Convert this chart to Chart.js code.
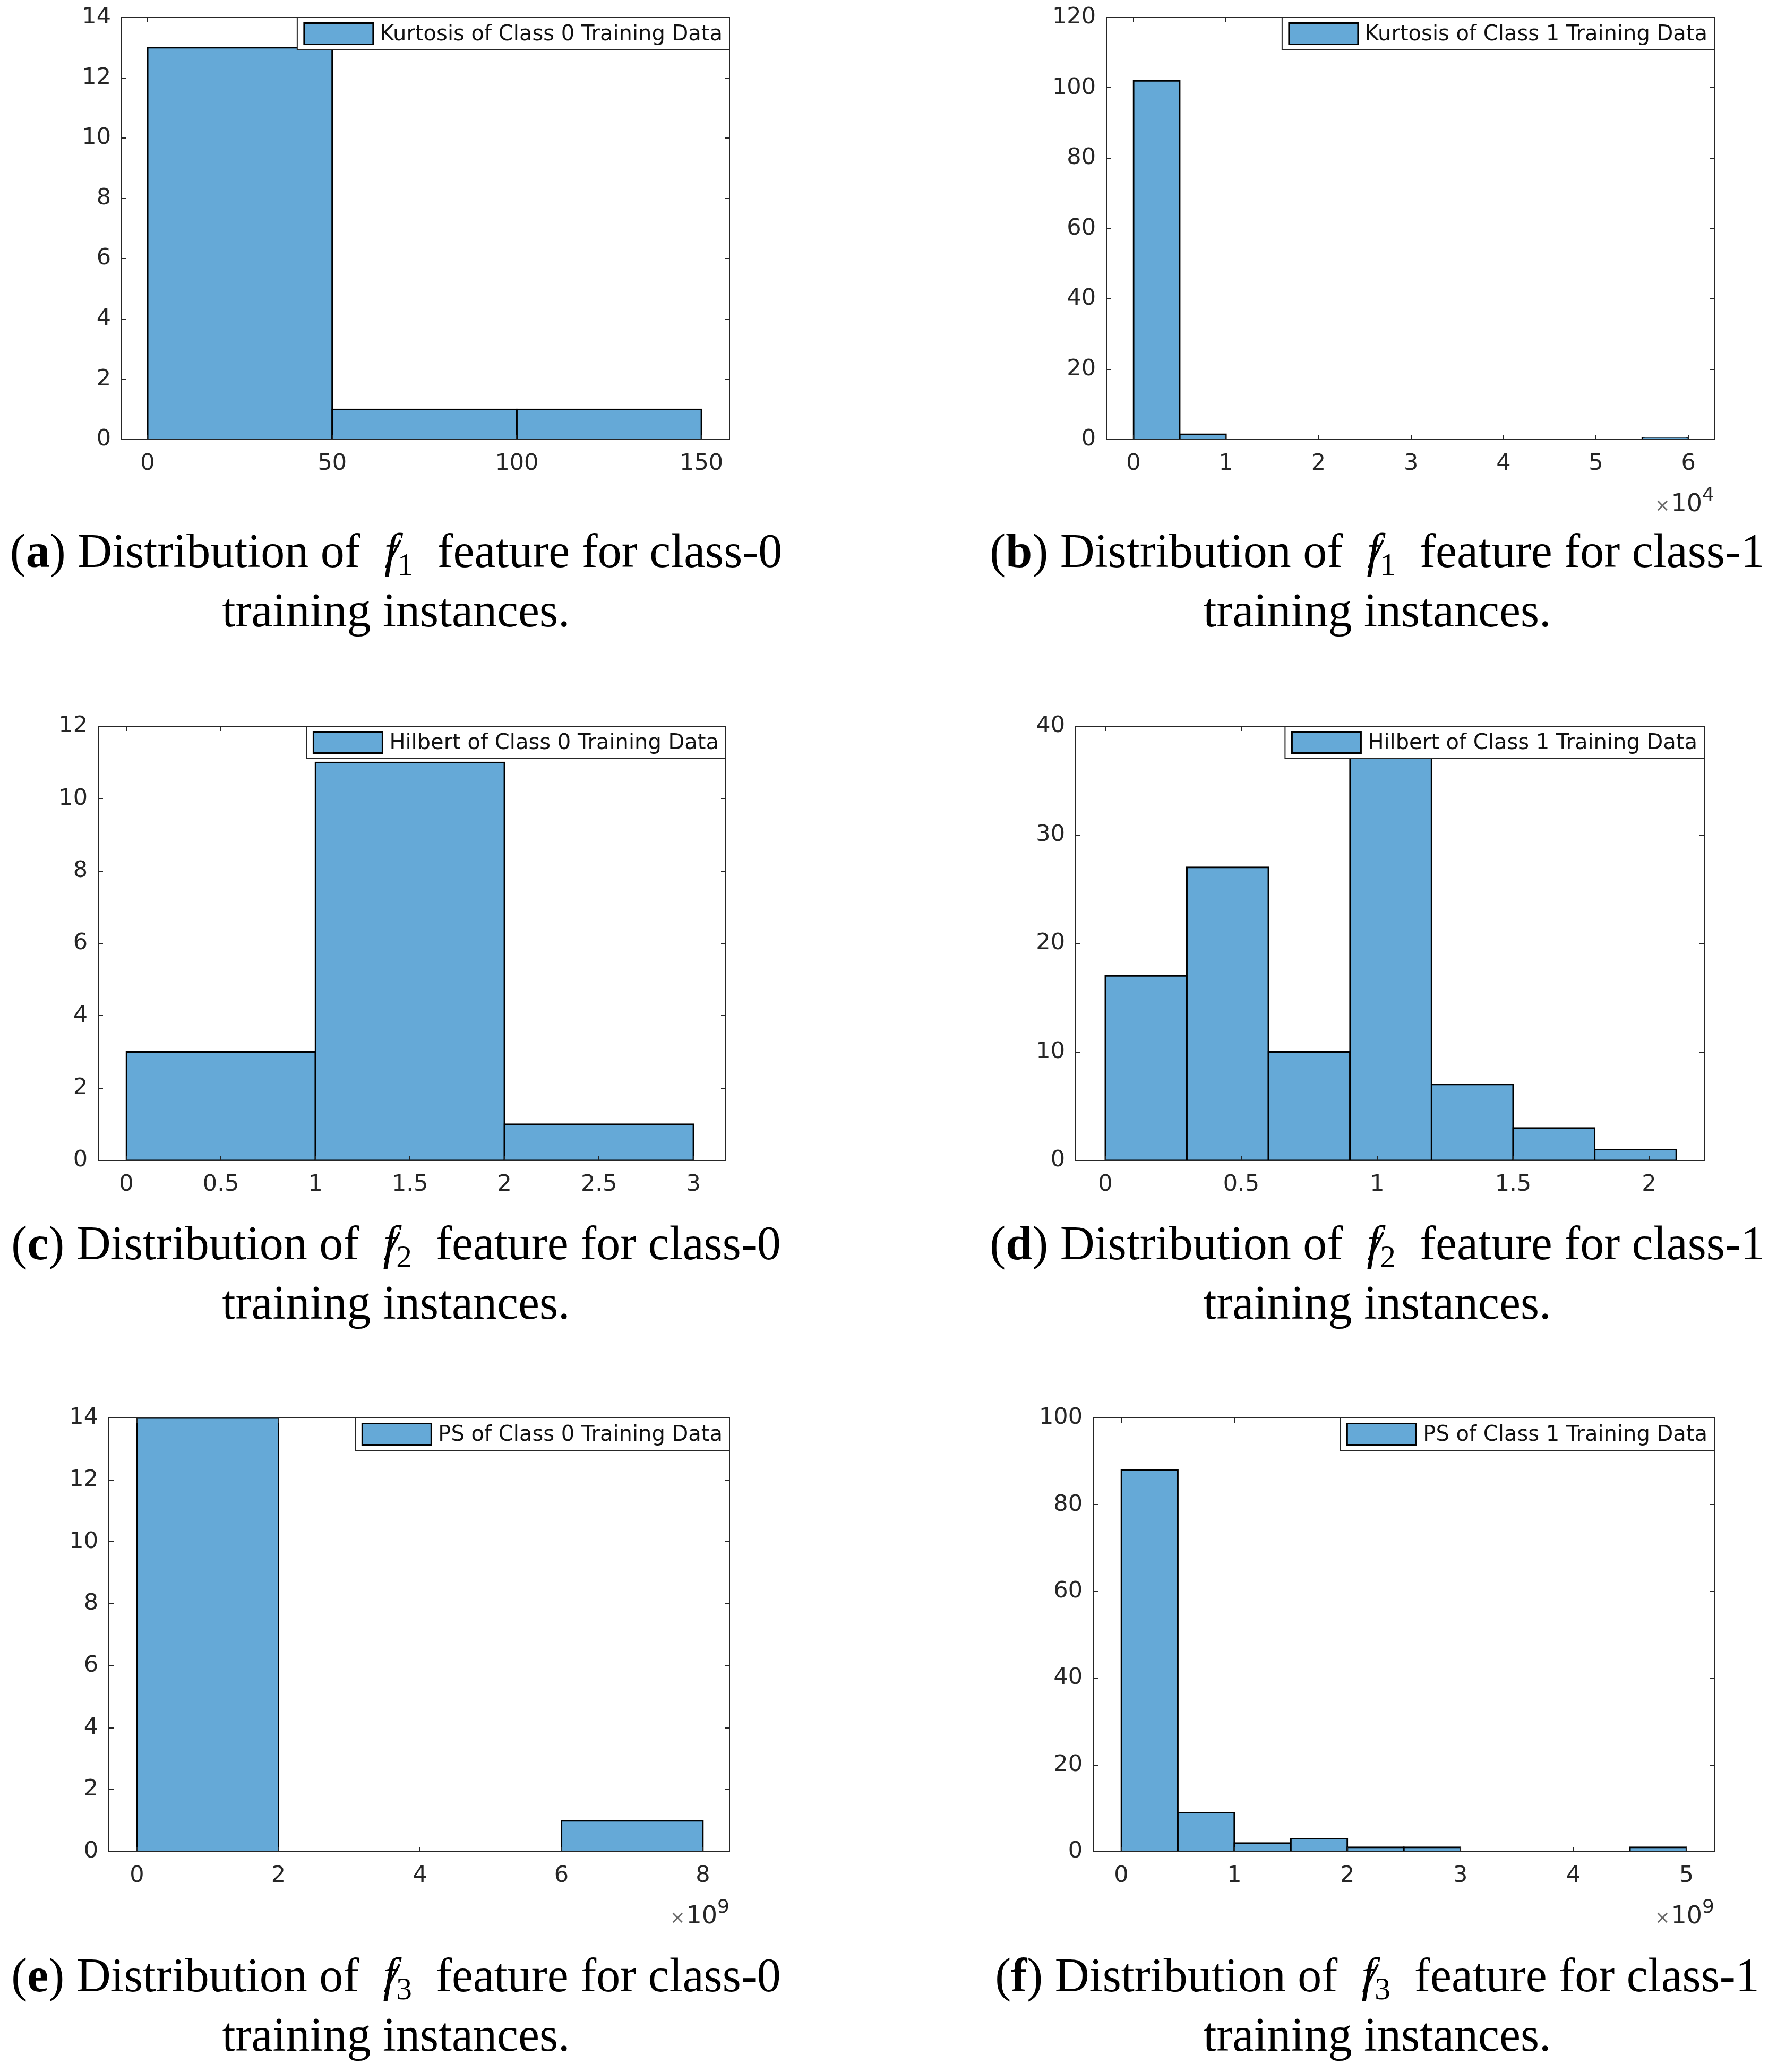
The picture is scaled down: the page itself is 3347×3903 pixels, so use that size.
<!DOCTYPE html>
<html>
<head>
<meta charset="utf-8">
<script src="https://cdn.jsdelivr.net/npm/chart.js@4.4.1/dist/chart.umd.min.js"></script>
<style>
html,body{margin:0;padding:0;background:#fff;}
body{width:3347px;height:3903px;position:relative;overflow:hidden;}
canvas{position:absolute;}
.cap{position:absolute;width:1700px;text-align:center;font-family:"Liberation Serif","Times New Roman",serif;font-size:90px;line-height:112px;color:#000;white-space:nowrap;}
.fs{font-style:italic;position:relative;display:inline-block;}
.fs::after{content:"";position:absolute;left:-0.14em;width:0.66em;top:0.66em;height:0.045em;background:#000;transform:rotate(-62deg);}
.cap sub{font-size:0.66em;vertical-align:-0.25em;line-height:0;}
</style>
</head>
<body>
<script>
// ---------------- DATA ----------------
// (a) Kurtosis, class 0
const edgesA = [0, 50, 100, 150];
const countsA = [13, 1, 1];
const xTicksA = [0, 50, 100, 150];
const xTickLabelsA = ['0', '50', '100', '150'];
const yTicksA = [0, 2, 4, 6, 8, 10, 12, 14];
const labelA = 'Kurtosis of Class 0 Training Data';

// (b) Kurtosis, class 1  (x in units of 10^4)
const edgesB = [0, 0.5, 1, 1.5, 2, 2.5, 3, 3.5, 4, 4.5, 5, 5.5, 6];
const countsB = [102, 1.5, 0, 0, 0, 0, 0, 0, 0, 0, 0, 0.5];
const xTicksB = [0, 1, 2, 3, 4, 5, 6];
const xTickLabelsB = ['0', '1', '2', '3', '4', '5', '6'];
const yTicksB = [0, 20, 40, 60, 80, 100, 120];
const labelB = 'Kurtosis of Class 1 Training Data';

// (c) Hilbert, class 0
const edgesC = [0, 1, 2, 3];
const countsC = [3, 11, 1];
const xTicksC = [0, 0.5, 1, 1.5, 2, 2.5, 3];
const xTickLabelsC = ['0', '0.5', '1', '1.5', '2', '2.5', '3'];
const yTicksC = [0, 2, 4, 6, 8, 10, 12];
const labelC = 'Hilbert of Class 0 Training Data';

// (d) Hilbert, class 1
const edgesD = [0, 0.3, 0.6, 0.9, 1.2, 1.5, 1.8, 2.1];
const countsD = [17, 27, 10, 38, 7, 3, 1];
const xTicksD = [0, 0.5, 1, 1.5, 2];
const xTickLabelsD = ['0', '0.5', '1', '1.5', '2'];
const yTicksD = [0, 10, 20, 30, 40];
const labelD = 'Hilbert of Class 1 Training Data';

// (e) PS, class 0  (x in units of 10^9)
const edgesE = [0, 2, 4, 6, 8];
const countsE = [14, 0, 0, 1];
const xTicksE = [0, 2, 4, 6, 8];
const xTickLabelsE = ['0', '2', '4', '6', '8'];
const yTicksE = [0, 2, 4, 6, 8, 10, 12, 14];
const labelE = 'PS of Class 0 Training Data';

// (f) PS, class 1  (x in units of 10^9)
const edgesF = [0, 0.5, 1, 1.5, 2, 2.5, 3, 3.5, 4, 4.5, 5];
const countsF = [88, 9, 2, 3, 1, 1, 0, 0, 0, 1];
const xTicksF = [0, 1, 2, 3, 4, 5];
const xTickLabelsF = ['0', '1', '2', '3', '4', '5'];
const yTicksF = [0, 20, 40, 60, 80, 100];
const labelF = 'PS of Class 1 Training Data';

// ---------------- STYLE / LAYOUT ----------------
const FACE = '#65A9D7';
const AXIS = '#262626';
const TICKFONT = 'DejaVu Sans';
const PADL = 200, PADT = 40, PADR = 40, PADB = 170;
const TL = 9;

const panels = [
  {L: 229, T: 33, R: 1374, B: 828, edges: edgesA, counts: countsA, xTicks: xTicksA, xLabels: xTickLabelsA, yTicks: yTicksA, label: labelA, xMin: -7.05, xMax: 157.6, yMax: 14, exp: null},
  {L: 2084, T: 33, R: 3229, B: 828, edges: edgesB, counts: countsB, xTicks: xTicksB, xLabels: xTickLabelsB, yTicks: yTicksB, label: labelB, xMin: -0.293, xMax: 6.28, yMax: 120, exp: '4'},
  {L: 185, T: 1368, R: 1367, B: 2186, edges: edgesC, counts: countsC, xTicks: xTicksC, xLabels: xTickLabelsC, yTicks: yTicksC, label: labelC, xMin: -0.149, xMax: 3.171, yMax: 12, exp: null},
  {L: 2026, T: 1368, R: 3210, B: 2186, edges: edgesD, counts: countsD, xTicks: xTicksD, xLabels: xTickLabelsD, yTicks: yTicksD, label: labelD, xMin: -0.109, xMax: 2.203, yMax: 40, exp: null},
  {L: 205, T: 2671, R: 1374, B: 3488, edges: edgesE, counts: countsE, xTicks: xTicksE, xLabels: xTickLabelsE, yTicks: yTicksE, label: labelE, xMin: -0.398, xMax: 8.375, yMax: 14, exp: '9'},
  {L: 2059, T: 2671, R: 3229, B: 3488, edges: edgesF, counts: countsF, xTicks: xTicksF, xLabels: xTickLabelsF, yTicks: yTicksF, label: labelF, xMin: -0.249, xMax: 5.247, yMax: 100, exp: '9'}
];

const captions = [
  {cx: 746, base: 1068, letter: 'a', sub: '1', cls: '0'},
  {cx: 2594, base: 1068, letter: 'b', sub: '1', cls: '1'},
  {cx: 746, base: 2372, letter: 'c', sub: '2', cls: '0'},
  {cx: 2594, base: 2372, letter: 'd', sub: '2', cls: '1'},
  {cx: 746, base: 3751, letter: 'e', sub: '3', cls: '0'},
  {cx: 2594, base: 3751, letter: 'f', sub: '3', cls: '1'}
];

// ---------------- PLUGIN: MATLAB-style box, inward ticks, legend, exponent ----------------
const matlabFrame = {
  id: 'matlabFrame',
  afterDraw(chart, args, opts) {
    const ctx = chart.ctx;
    const a = chart.chartArea;
    const x = chart.scales.x, y = chart.scales.y;
    ctx.save();
    ctx.strokeStyle = AXIS;
    ctx.lineWidth = 2;
    ctx.beginPath();
    x.ticks.forEach(t => {
      const px = Math.round(x.getPixelForValue(t.value));
      ctx.moveTo(px, a.bottom); ctx.lineTo(px, a.bottom - TL);
      ctx.moveTo(px, a.top); ctx.lineTo(px, a.top + TL);
    });
    y.ticks.forEach(t => {
      const py = Math.round(y.getPixelForValue(t.value));
      ctx.moveTo(a.left, py); ctx.lineTo(a.left + TL, py);
      ctx.moveTo(a.right, py); ctx.lineTo(a.right - TL, py);
    });
    ctx.stroke();
    ctx.strokeRect(a.left, a.top, a.right - a.left, a.bottom - a.top);

    // legend
    const label = chart.data.datasets[0].label;
    ctx.font = '40px "DejaVu Sans"';
    const tw = ctx.measureText(label).width;
    const pad = 13, pw = 130, ph = 40, lh = 61;
    const lw = pad + pw + pad + tw + pad;
    const lx = a.right - lw, ly = a.top;
    ctx.fillStyle = '#fff';
    ctx.fillRect(lx, ly, lw, lh);
    ctx.strokeStyle = AXIS; ctx.lineWidth = 2;
    ctx.strokeRect(lx, ly, lw, lh);
    ctx.fillStyle = FACE;
    ctx.fillRect(lx + pad, ly + (lh - ph) / 2, pw, ph);
    ctx.strokeStyle = '#000'; ctx.lineWidth = 3;
    ctx.strokeRect(lx + pad, ly + (lh - ph) / 2, pw, ph);
    ctx.fillStyle = '#111';
    ctx.textBaseline = 'middle';
    ctx.textAlign = 'left';
    ctx.fillText(label, lx + pad + pw + pad, ly + lh / 2 + 2);

    // exponent
    if (opts.exp) {
      const base = a.bottom + 135;
      ctx.textBaseline = 'alphabetic';
      ctx.textAlign = 'left';
      ctx.font = '36px "DejaVu Sans"';
      const ew = ctx.measureText(opts.exp).width;
      ctx.font = '46px "DejaVu Sans"';
      const tenW = ctx.measureText('10').width;
      ctx.font = '34px "DejaVu Sans"';
      const xw = ctx.measureText('\u00d7').width;
      let cx = a.right - ew - tenW - xw - 2;
      ctx.fillStyle = '#666';
      ctx.fillText('\u00d7', cx, base);
      cx += xw + 2;
      ctx.fillStyle = AXIS;
      ctx.font = '46px "DejaVu Sans"';
      ctx.fillText('10', cx, base);
      cx += tenW;
      ctx.font = '36px "DejaVu Sans"';
      ctx.fillText(opts.exp, cx, base - 20);
    }
    ctx.restore();
  }
};

function makeChart(p) {
  const c = document.createElement('canvas');
  const W = p.R - p.L + PADL + PADR;
  const H = p.B - p.T + PADT + PADB;
  c.width = W; c.height = H;
  c.style.width = W + 'px'; c.style.height = H + 'px';
  c.style.left = (p.L - PADL) + 'px';
  c.style.top = (p.T - PADT) + 'px';
  document.body.appendChild(c);
  const data = p.counts.map((v, i) => ({x: (p.edges[i] + p.edges[i + 1]) / 2, y: v}));
  new Chart(c, {
    type: 'bar',
    data: {
      datasets: [{
        label: p.label,
        data: data,
        backgroundColor: FACE,
        borderColor: '#000',
        borderWidth: ctx => (ctx.raw && ctx.raw.y > 0 ? 3 : 0),
        inflateAmount: ctx => (ctx.raw && ctx.raw.y > 0 ? 1.5 : 0),
        borderSkipped: false,
        barThickness: 'flex',
        barPercentage: 1,
        categoryPercentage: 1
      }]
    },
    options: {
      responsive: false,
      animation: false,
      devicePixelRatio: 1,
      layout: {padding: {left: 0, top: PADT, right: PADR, bottom: 0}},
      plugins: {
        legend: {display: false},
        tooltip: {enabled: false},
        matlabFrame: {exp: p.exp}
      },
      scales: {
        x: {
          type: 'linear',
          offset: false,
          min: p.xMin, max: p.xMax,
          grid: {display: false, drawTicks: false, offset: false},
          border: {display: false},
          ticks: {
            autoSkip: false, maxRotation: 0, minRotation: 0,
            padding: 20,
            color: AXIS,
            font: {family: TICKFONT, size: 43},
            callback: (v, i) => p.xLabels[i]
          },
          afterBuildTicks: s => { s.ticks = p.xTicks.map(v => ({value: v})); },
          afterFit: s => { s.height = PADB; s.paddingLeft = 0; s.paddingRight = 0; }
        },
        y: {
          type: 'linear',
          min: 0, max: p.yMax,
          grid: {display: false, drawTicks: false},
          border: {display: false},
          ticks: {
            autoSkip: false,
            padding: 20,
            color: AXIS,
            font: {family: TICKFONT, size: 43},
            callback: v => String(v)
          },
          afterBuildTicks: s => { s.ticks = p.yTicks.map(v => ({value: v})); },
          afterFit: s => { s.width = PADL; s.paddingTop = 0; s.paddingBottom = 0; }
        }
      }
    },
    plugins: [matlabFrame]
  });
}

panels.forEach(makeChart);

captions.forEach(cp => {
  const d = document.createElement('div');
  d.className = 'cap';
  d.style.left = (cp.cx - 850) + 'px';
  d.style.top = (cp.base - 86) + 'px';
  d.innerHTML = '(<b>' + cp.letter + '</b>) Distribution of&nbsp; <span class="fs">f</span><sub>' + cp.sub +
    '</sub>&nbsp; feature for class-' + cp.cls + '<br>training instances.';
  document.body.appendChild(d);
});
</script>
</body>
</html>
